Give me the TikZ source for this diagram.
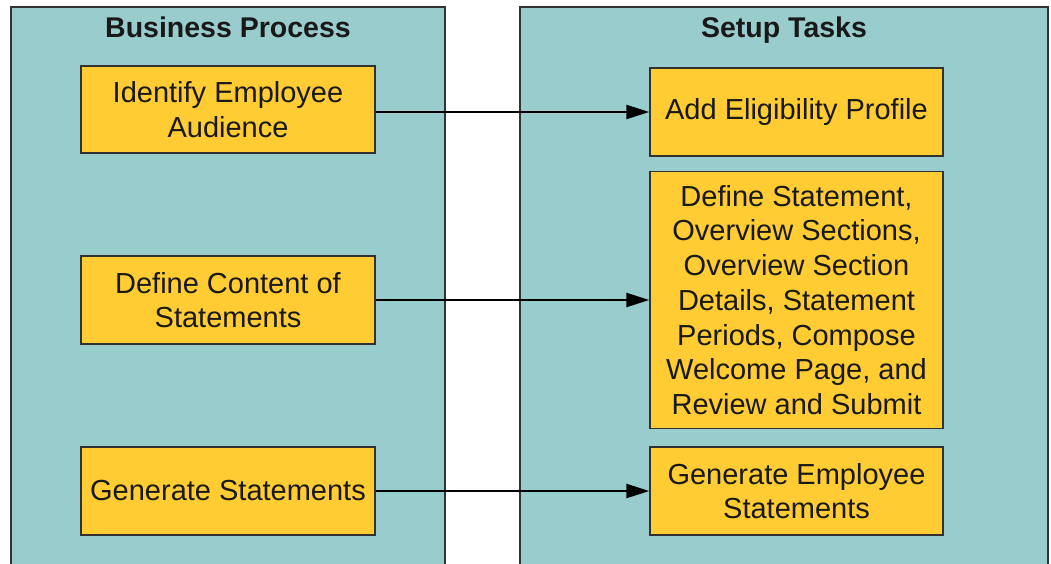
\documentclass[tikz,border=0pt]{standalone}
\usepackage{fontspec}
\setmainfont{Liberation Sans}
\usetikzlibrary{arrows.meta}
\definecolor{panelteal}{RGB}{153,204,204}
\definecolor{boxyellow}{RGB}{255,204,51}
\definecolor{edgegray}{RGB}{50,50,50}
\tikzset{
  panel/.style={draw=edgegray, line width=1.3pt, fill=panelteal},
  title/.style={font=\fontsize{28.5}{34}\selectfont\bfseries, text=black!90, anchor=base, inner sep=0pt},
  taskbox/.style={draw=edgegray, line width=1.5pt, fill=boxyellow, align=center,
    font=\fontsize{29}{34.7}\selectfont, text=black!90, inner sep=0pt},
  flow/.style={line width=2.4pt, black, -{Triangle[length=23pt,width=14pt]}}
}
\begin{document}
\begin{tikzpicture}[x=1pt,y=-1pt]
\useasboundingbox (0,0) rectangle (1051,563);
\clip (0,0) rectangle (1051,563);
\fill[white] (0,0) rectangle (1051,563);
\draw[panel] (11,7) rectangle (445,580);
\draw[panel] (520,7) rectangle (1048,580);
\node[title] (t1) at (228,37) {Business Process};
\node[title] (t2) at (784,37) {Setup Tasks};
\node[taskbox, minimum width=294pt, minimum height=87pt] (b1) at (228,109.5) {Identify Employee\\Audience};
\node[taskbox, minimum width=293pt, minimum height=88pt] (s1) at (796.5,112) {Add Eligibility Profile};
\node[taskbox, minimum width=294pt, minimum height=88pt] (b2) at (228,300) {Define Content of\\Statements};
\node[taskbox, minimum width=293pt, minimum height=257pt] (s2) at (796.5,300) {Define Statement,\\Overview Sections,\\Overview Section\\Details, Statement\\Periods, Compose\\Welcome Page, and\\Review and Submit};
\node[taskbox, minimum width=294pt, minimum height=88pt] (b3) at (228,491) {Generate Statements};
\node[taskbox, minimum width=293pt, minimum height=88pt] (s3) at (796.5,491) {Generate Employee\\Statements};
\draw[flow] (b1.east |- s1.west) -- (s1.west);
\draw[flow] (b2.east) -- (s2.west);
\draw[flow] (b3.east) -- (s3.west);
\end{tikzpicture}
\end{document}
